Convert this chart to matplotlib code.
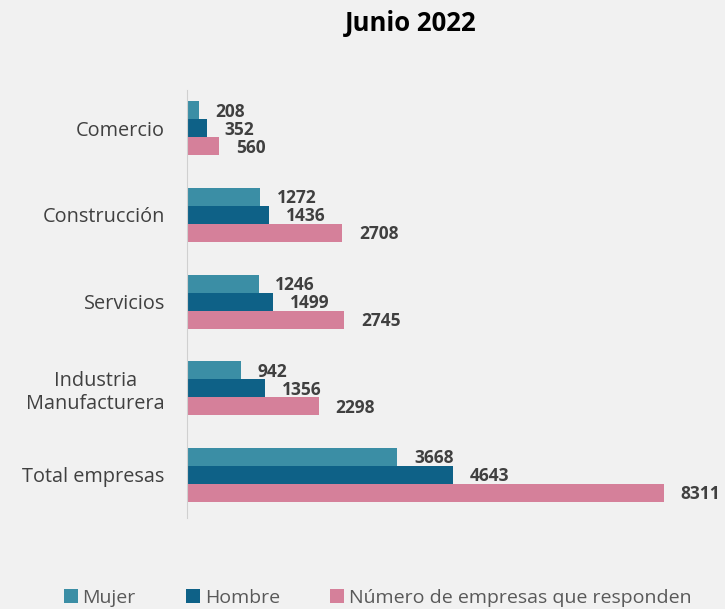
import numpy as np
import matplotlib
matplotlib.use("Agg")
import matplotlib.pyplot as plt

plt.rcParams['font.family'] = ['Open Sans', 'DejaVu Sans']

# data (bottom to top as drawn)
categorias = ["Total empresas", "Industria\nManufacturera", "Servicios", "Construcción", "Comercio"]
mujer = [3668, 942, 1246, 1272, 208]
hombre = [4643, 1356, 1499, 1436, 352]
total = [8311, 2298, 2745, 2708, 560]
series = ["Mujer", "Hombre", "Número de empresas que responden"]
colores = ["#3b8ea5", "#0e6187", "#d5809a"]

bg = "#f1f1f1"
fig = plt.figure(figsize=(7.25, 6.09), dpi=100, facecolor=bg)
ax = fig.add_axes([0.258, 0.149, 0.712, 0.703], facecolor=bg)

y = np.arange(len(categorias))
h = 0.207
for i, (vals, col, name) in enumerate(zip([mujer, hombre, total], colores, series)):
    pos = y + h - i * h
    bars = ax.barh(pos, vals, height=h, color=col, label=name)
    for b, v in zip(bars, vals):
        ax.annotate(str(v), (b.get_width(), b.get_y() + b.get_height() / 2),
                    xytext=(12, -1), textcoords="offset points",
                    ha="left", va="center", fontsize=12.5, fontweight="bold",
                    color="#404040")

ax.set_xlim(0, 9000)
ax.set_ylim(-0.5, 4.44)
ax.set_yticks(y)
ax.set_yticklabels(categorias, fontsize=14.3, color="#404040")
for lbl in ax.get_yticklabels():
    lbl.set_multialignment("center")
ax.tick_params(axis="y", length=0, pad=16)
ax.set_xticks([])
for s in ["top", "right", "bottom"]:
    ax.spines[s].set_visible(False)
ax.spines["left"].set_color("#d0d0d0")

fig.text(0.567, 0.962, "Junio 2022", ha="center", va="center", fontsize=18.5, fontweight="bold")

fig.legend(loc="center", bbox_to_anchor=(0.521, 0.018), ncol=3, frameon=False,
           fontsize=14, labelcolor="#595959", handlelength=0.7, handleheight=0.7,
           handletextpad=0.25, columnspacing=2.6)

fig.savefig("out.png", dpi=100, facecolor=bg)
